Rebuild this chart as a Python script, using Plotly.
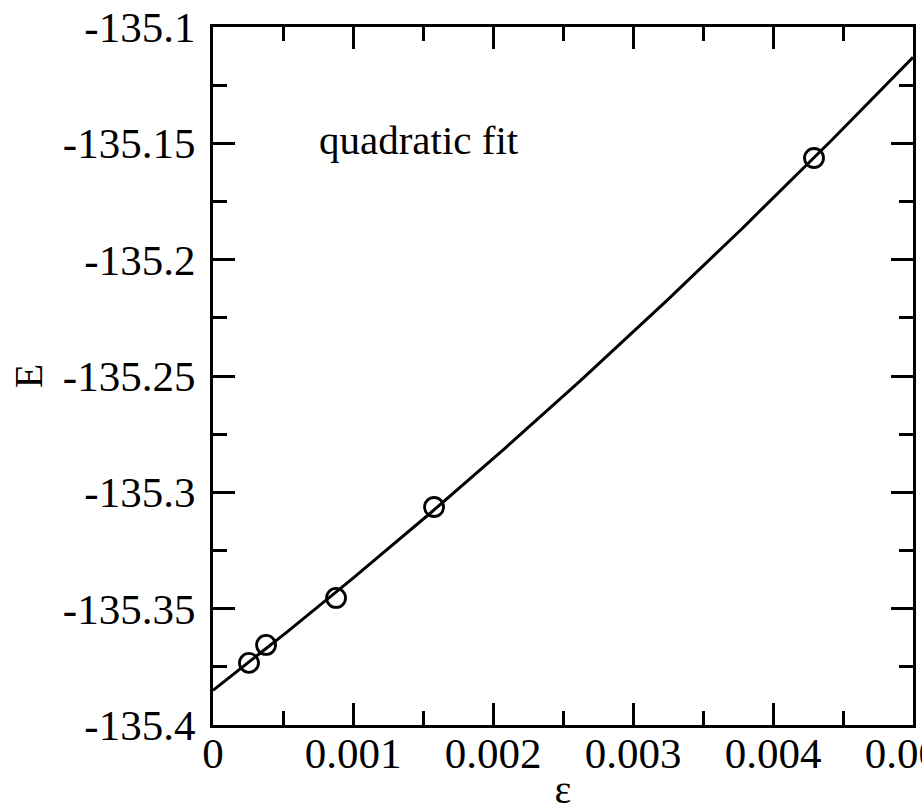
import numpy as np
import plotly.graph_objects as go

# data
eps = [0.000257, 0.000379, 0.000879, 0.001579, 0.004293]
energy = [-135.3733, -135.3656, -135.3454, -135.3063, -135.1563]

x_tickvals = [0, 0.001, 0.002, 0.003, 0.004, 0.005]
x_ticktext = ["0", "0.001", "0.002", "0.003", "0.004", "0.005"]
y_tickvals = [-135.4, -135.35, -135.3, -135.25, -135.2, -135.15, -135.1]
y_ticktext = ["-135.4", "-135.35", "-135.3", "-135.25", "-135.2", "-135.15", "-135.1"]

# quadratic fit of the data
coef = np.polyfit(eps, energy, 2)
xf = np.linspace(0, 0.005, 200)
yf = np.polyval(coef, xf)

FONT = "Liberation Serif, Times New Roman, serif"

fig = go.Figure()
fig.add_trace(go.Scatter(x=xf, y=yf, mode="lines",
                         line=dict(color="black", width=3),
                         hoverinfo="skip", showlegend=False))
fig.add_trace(go.Scatter(x=eps, y=energy, mode="markers",
                         marker=dict(symbol="circle-open", size=19,
                                     color="black", line=dict(width=2.8)),
                         showlegend=False))

fig.add_annotation(x=0.000743, y=-135.1486, xref="x", yref="y",
                   text="quadratic fit", showarrow=False,
                   xanchor="left", yanchor="middle",
                   font=dict(family=FONT, size=41, color="black"))

axis_common = dict(showline=True, linecolor="black", linewidth=3,
                   mirror="allticks", ticks="inside", ticklen=22,
                   tickwidth=2.5, tickcolor="black", showgrid=False,
                   zeroline=False, ticklabeloverflow="allow",
                   tickfont=dict(family=FONT, size=43, color="black"))

fig.update_xaxes(range=[0, 0.005], tickmode="array",
                 tickvals=x_tickvals, ticktext=x_ticktext,
                 minor=dict(ticks="inside", ticklen=14, tickwidth=2.5,
                            tickcolor="black", dtick=0.0005, tick0=0,
                            showgrid=False),
                 title=dict(text="ε", font=dict(family=FONT, size=40, color="black"),
                            standoff=0),
                 ticklabelstandoff=-12,
                 **axis_common)
fig.update_yaxes(range=[-135.4, -135.1], tickmode="array",
                 tickvals=y_tickvals, ticktext=y_ticktext,
                 minor=dict(ticks="inside", ticklen=14, tickwidth=2.5,
                            tickcolor="black", dtick=0.025, tick0=-135.4,
                            showgrid=False),
                 title=dict(text="E", font=dict(family=FONT, size=40, color="black"),
                            standoff=8),
                 ticklabelstandoff=6,
                 **axis_common)

fig.update_layout(width=922, height=812,
                  margin=dict(l=213, r=9, t=27, b=87, autoexpand=False),
                  plot_bgcolor="white", paper_bgcolor="white",
                  showlegend=False)

fig.write_html("out.html")
